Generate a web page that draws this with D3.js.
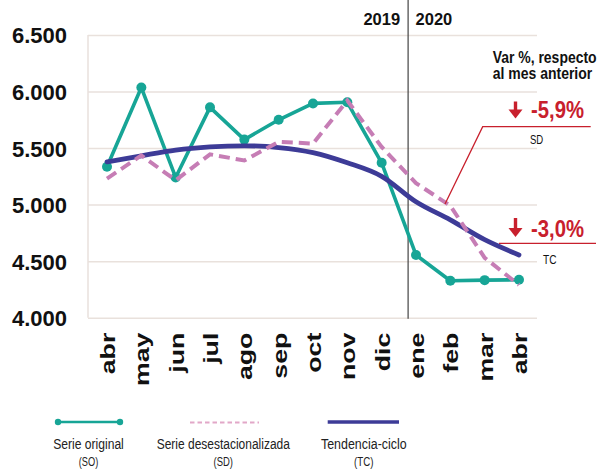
<!DOCTYPE html>
<html><head><meta charset="utf-8">
<script src="https://cdn.jsdelivr.net/npm/d3@7"></script>
<style>body{margin:0;background:#fff}svg{display:block}</style>
</head><body>
<svg id="c" width="597" height="472"></svg>
<script>
const months = ["abr","may","jun","jul","ago","sep","oct","nov","dic","ene","feb","mar","abr"];
const serieOriginal = [5335,6035,5240,5860,5575,5750,5895,5905,5370,4555,4327,4332,4335];
const serieDesest   = [5230,5435,5215,5445,5390,5555,5540,5920,5510,5190,4990,4530,4290];
const tendencia     = [5378,5432,5482,5510,5520,5505,5460,5370,5250,5025,4865,4690,4555];
const yTicks = [4000,4500,5000,5500,6000,6500];
const years = ["2019","2020"];

const svg = d3.select("#c");
const FONT = "'Liberation Sans', Arial, Helvetica, sans-serif";
const L = 88, R = 537, T = 35, B = 317.7;

const x = d3.scalePoint().domain(d3.range(months.length)).range([107, 519]);
const y = d3.scaleLinear().domain([4000, 6500]).range([B, T]);
const loc = d3.formatLocale({decimal: ",", thousands: ".", grouping: [3], currency: ["", ""]});
const fmt = loc.format(",");

function fit(sel, w){
  sel.each(function(){
    const len = this.getComputedTextLength();
    const x0 = +this.getAttribute("x")||0, y0 = +this.getAttribute("y")||0;
    const s = w/len;
    this.setAttribute("transform", `translate(${x0},${y0}) scale(${s},1) translate(${-x0},${-y0})`);
  });
}

// y axis + grid
const gy = svg.append("g").attr("transform", `translate(${L},0)`)
  .call(d3.axisLeft(y).tickValues(yTicks).tickFormat(fmt).tickSize(-(R - L)).tickPadding(21));
gy.select(".domain").remove();
gy.selectAll(".tick line").attr("stroke", "#e9e1dc").attr("stroke-width", 1.5);
gy.selectAll(".tick text").attr("font-family", FONT).attr("font-weight", "bold")
  .attr("font-size", 22).attr("fill", "#111").attr("dy", "0.36em");
svg.append("line").attr("x1", L).attr("x2", L).attr("y1", T).attr("y2", B)
  .attr("stroke", "#e9e1dc").attr("stroke-width", 1.5);

// x axis labels
const gx = svg.append("g").attr("transform", `translate(0,${B})`)
  .call(d3.axisBottom(x).tickFormat(i => months[i]).tickSize(0));
gx.select(".domain").remove();
gx.selectAll(".tick text")
  .attr("font-family", FONT).attr("font-weight", "bold").attr("font-size", 21).attr("fill", "#111")
  .attr("text-anchor", "end").attr("x", 0).attr("y", 0).attr("dy", "0.36em")
  .attr("transform", "translate(0,15) rotate(-90) scale(1.27,1)");

// separator between years
const sepX = x(8) + x.step() * 0.77;
svg.append("line").attr("x1", sepX).attr("x2", sepX).attr("y1", 0).attr("y2", B + 1)
  .attr("stroke", "#444").attr("stroke-width", 1.2);
svg.append("text").attr("x", sepX - 8).attr("y", 25).attr("text-anchor", "end")
  .attr("font-family", FONT).attr("font-weight", "bold").attr("font-size", 16.5).attr("fill", "#111").text(years[0]);
svg.append("text").attr("x", sepX + 7.5).attr("y", 25).attr("text-anchor", "start")
  .attr("font-family", FONT).attr("font-weight", "bold").attr("font-size", 16.5).attr("fill", "#111").text(years[1]);

// lines
const line = d3.line().x((d, i) => x(i)).y(d => y(d));
const TEAL = "#17a596", PINK = "#c67db5", NAVY = "#3d3b97", RED = "#c8202d";
svg.append("path").datum(serieOriginal).attr("d", line).attr("fill", "none")
  .attr("stroke", TEAL).attr("stroke-width", 3.6).attr("stroke-linejoin", "round");
svg.selectAll(".dot").data(serieOriginal).join("circle").attr("class", "dot")
  .attr("cx", (d, i) => x(i)).attr("cy", d => y(d)).attr("r", 5).attr("fill", TEAL);
svg.append("path").datum(tendencia).attr("d", d3.line().x((d, i) => x(i)).y(d => y(d)).curve(d3.curveMonotoneX))
  .attr("fill", "none").attr("stroke", NAVY).attr("stroke-width", 4.8).attr("stroke-linecap", "round");
svg.append("path").datum(serieDesest).attr("d", line).attr("fill", "none")
  .attr("stroke", PINK).attr("stroke-width", 4).attr("stroke-dasharray", "11,6");

// annotations
const ann = svg.append("g");
ann.append("text").attr("x", 492.7).attr("y", 63).attr("font-family", FONT).attr("font-weight", "bold")
  .attr("font-size", 16).attr("fill", "#111").text("Var %, respecto").call(fit, 104);
ann.append("text").attr("x", 492.7).attr("y", 79.5).attr("font-family", FONT).attr("font-weight", "bold")
  .attr("font-size", 16).attr("fill", "#111").text("al mes anterior").call(fit, 99.7);

function arrow(cx, y0, y1){
  ann.append("line").attr("x1", cx).attr("x2", cx).attr("y1", y0).attr("y2", y1 - 6)
    .attr("stroke", RED).attr("stroke-width", 3.4);
  ann.append("path").attr("d", `M${cx-7},${y1-9} L${cx+7},${y1-9} L${cx},${y1} Z`).attr("fill", RED);
}
arrow(515.5, 101.5, 118.5);
ann.append("text").attr("x", 531).attr("y", 118.3).attr("font-family", FONT).attr("font-weight", "bold")
  .attr("font-size", 23).attr("fill", RED).text("-5,9%").call(fit, 53);
ann.append("path").attr("d", "M445,204 L482.7,126.7 L590.7,126.7").attr("fill", "none")
  .attr("stroke", RED).attr("stroke-width", 1.3);
ann.append("text").attr("x", 530).attr("y", 144).attr("font-family", FONT)
  .attr("font-size", 12.5).attr("fill", "#111").text("SD").call(fit, 13.3);

arrow(515.5, 218, 237);
ann.append("text").attr("x", 531).attr("y", 236.7).attr("font-family", FONT).attr("font-weight", "bold")
  .attr("font-size", 23).attr("fill", RED).text("-3,0%").call(fit, 53);
ann.append("line").attr("x1", 499).attr("x2", 596).attr("y1", 243.3).attr("y2", 243.3)
  .attr("stroke", RED).attr("stroke-width", 1.3);
ann.append("text").attr("x", 543).attr("y", 264).attr("font-family", FONT)
  .attr("font-size", 12.5).attr("fill", "#111").text("TC").call(fit, 13.5);

// legend
const lg = svg.append("g");
const ly = 422;
lg.append("line").attr("x1", 58).attr("x2", 120).attr("y1", ly).attr("y2", ly).attr("stroke", TEAL).attr("stroke-width", 2.6);
[58, 120].forEach(cx => lg.append("circle").attr("cx", cx).attr("cy", ly).attr("r", 3.2).attr("fill", TEAL));
lg.append("line").attr("x1", 190).attr("x2", 259).attr("y1", ly + 0.5).attr("y2", ly + 0.5).attr("stroke", "#e2a7c8")
  .attr("stroke-width", 2).attr("stroke-dasharray", "4.5,3");
lg.append("line").attr("x1", 327.7).attr("x2", 399).attr("y1", ly).attr("y2", ly).attr("stroke", NAVY).attr("stroke-width", 3.4);

const legendItems = [
  {name: "Serie original", abbr: "(SO)", cx: 88.5, w: 70.7},
  {name: "Serie desestacionalizada", abbr: "(SD)", cx: 223.3, w: 133.3},
  {name: "Tendencia-ciclo", abbr: "(TC)", cx: 363.8, w: 85.7}
];
legendItems.forEach(it => {
  lg.append("text").attr("x", it.cx).attr("y", 449).attr("text-anchor", "middle").attr("font-family", FONT)
    .attr("font-size", 15.5).attr("fill", "#222").text(it.name).call(fit, it.w);
  lg.append("text").attr("x", it.cx).attr("y", 466.5).attr("text-anchor", "middle").attr("font-family", FONT)
    .attr("font-size", 12).attr("fill", "#222").text(it.abbr).call(fit, 19.5);
});
</script>
</body></html>
